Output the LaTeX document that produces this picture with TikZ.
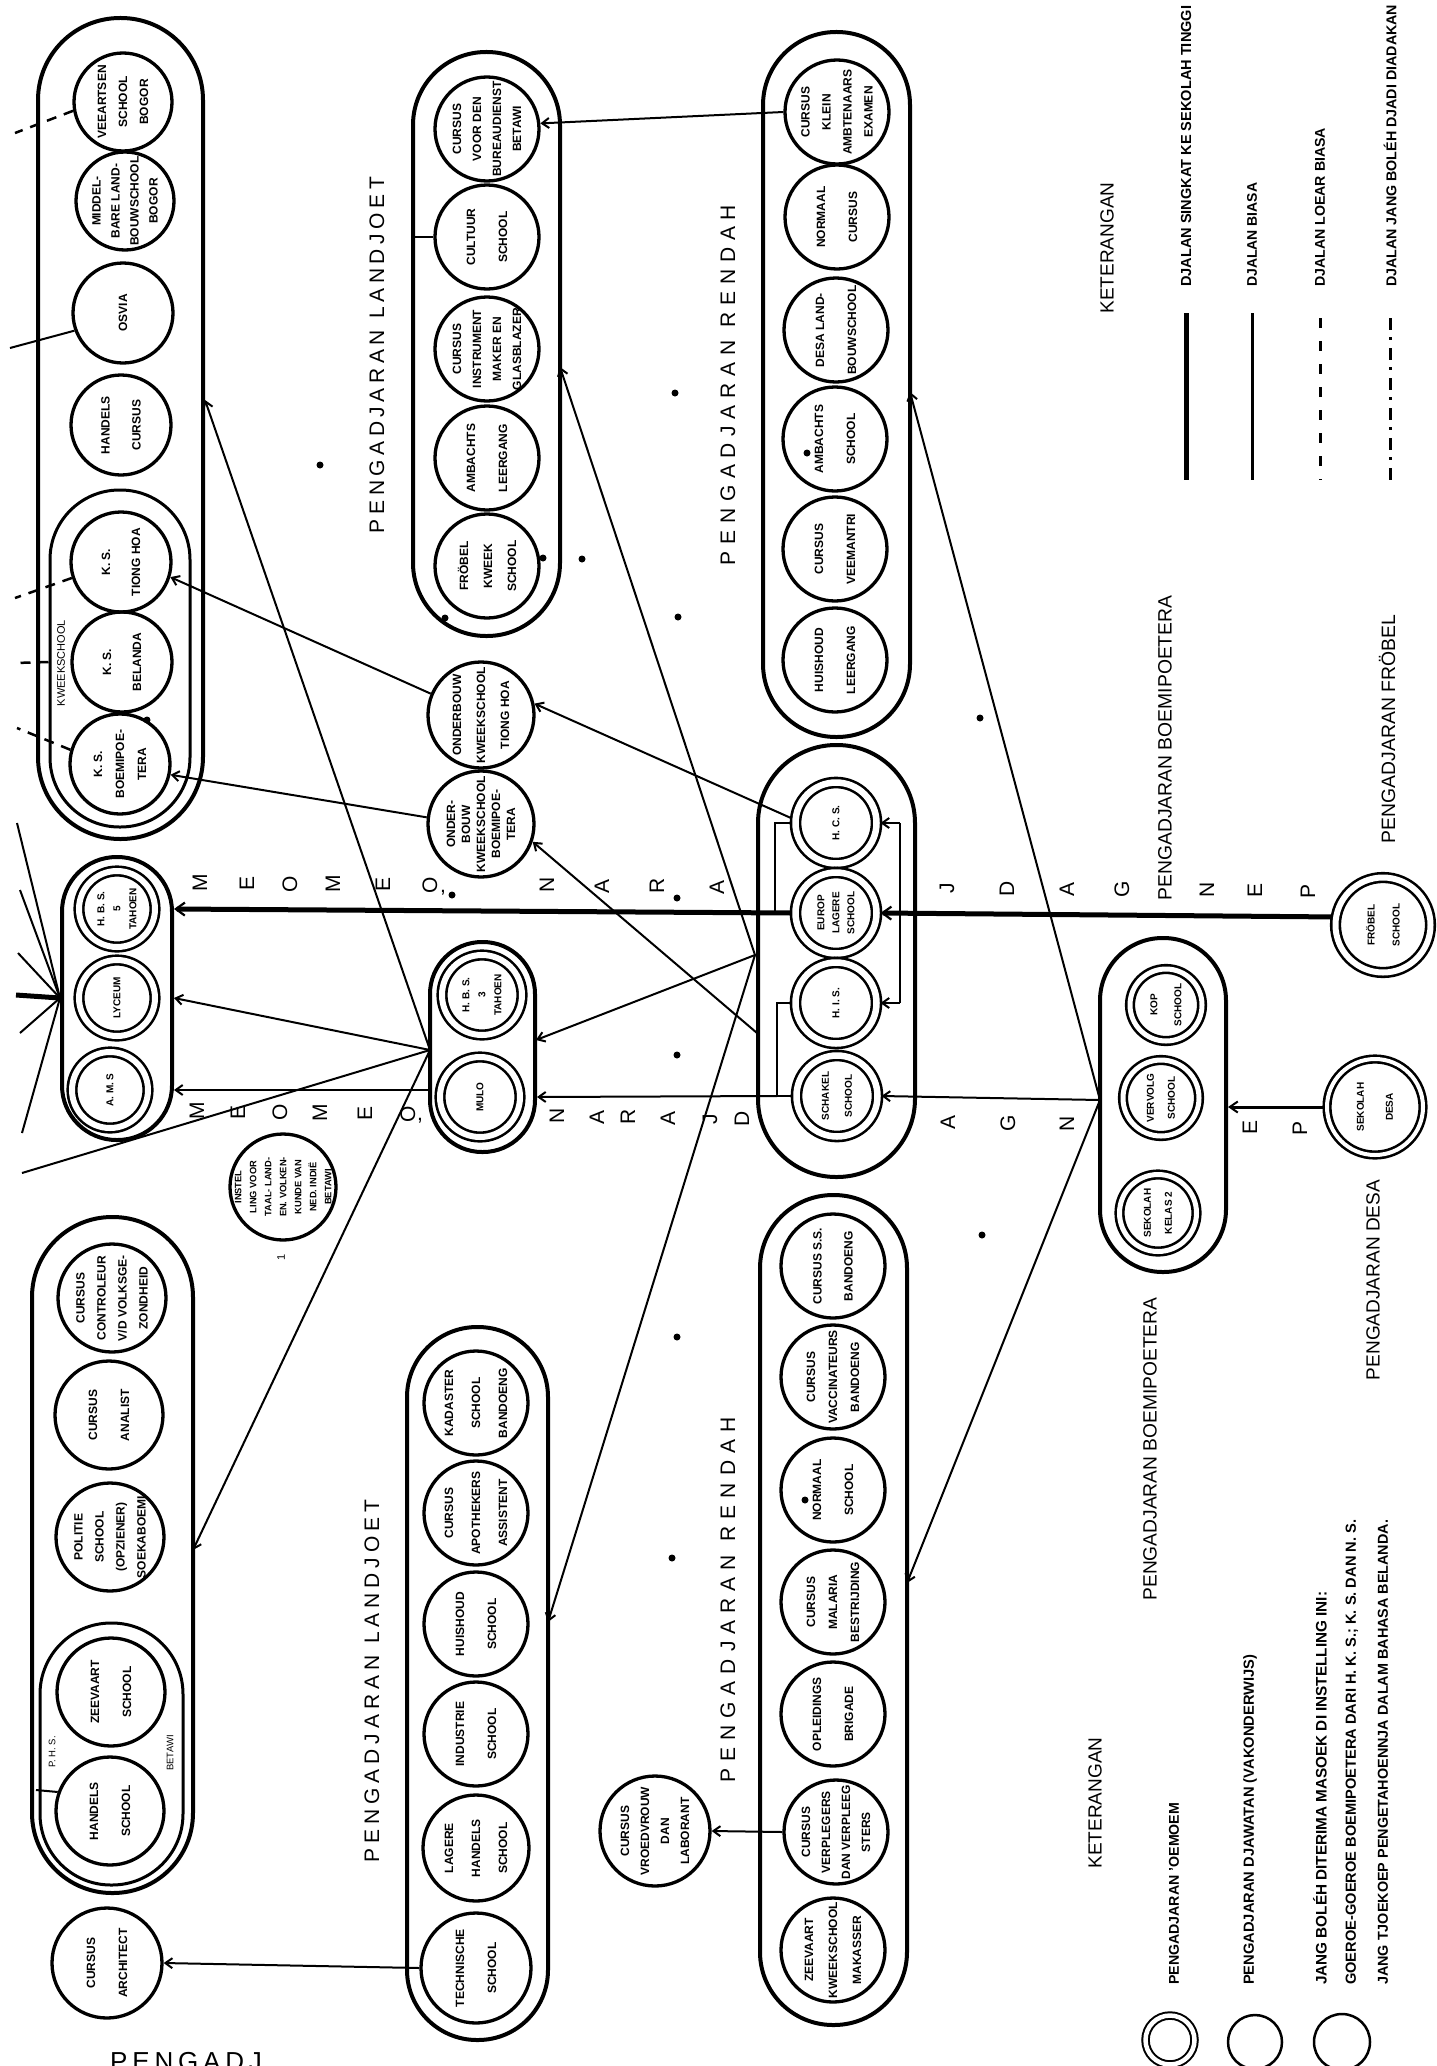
\documentclass[tikz,border=0pt]{standalone}
\usepackage{fontspec}
\setmainfont{Liberation Sans}
\usepackage{graphicx}
\usetikzlibrary{arrows.meta}
\tikzset{
  pillbox/.style={draw, rectangle, line width=4pt, rounded corners=#1, inner sep=0pt},
  cir/.style={draw, circle, line width=3.3pt, minimum size=#1, inner sep=0pt},
  dcir/.style={draw, circle, line width=2.6pt, double, double distance=#1, inner sep=0pt, outer sep=4pt},
  ct/.style={rotate=90, align=center, inner sep=0pt, font=\bfseries\fontsize{12}{#1}\selectfont},
  dct/.style={rotate=90, align=center, inner sep=0pt, font=\bfseries\fontsize{10}{#1}\selectfont},
  conn/.style={line width=2pt},
  arr/.style={line width=2pt, -{Straight Barb[length=7pt,width=10pt]}},
  thickarr/.style={line width=5pt, -{Straight Barb[length=9pt,width=13pt,line width=2.2pt]}},
  medarr/.style={line width=3pt, -{Straight Barb[length=8pt,width=11pt,line width=2pt]}},
  dsh/.style={line width=2.5pt, dash pattern=on 10pt off 8pt},
  bigl/.style={rotate=90, inner sep=0pt, font=\fontsize{21}{21}\selectfont},
  ttl/.style={rotate=90, inner sep=0pt, font=\fontsize{19}{19}\selectfont},
  leg/.style={rotate=90, inner sep=0pt, anchor=west, font=\bfseries\fontsize{14}{14}\selectfont},
}
\newcommand\schc[6]{\node[cir=#4pt] (#1) at (#2,#3) {};\node[ct=#5] (#1t) at (#1) {#6};}
\newcommand\schd[7]{\node[dcir=#5pt, minimum size=#4pt] (#1) at (#2,#3) {};\node[dct=#6] (#1t) at (#1) {#7};}
\newcommand\mkpill[6]{\node[pillbox=#6pt, minimum width=#4pt, minimum height=#5pt] (#1) at (#2,#3) {};}
\begin{document}
\begin{tikzpicture}[x=1pt,y=-1pt]
\fill[white] (0,0) rectangle (1437,2066);
\useasboundingbox (0,0) rectangle (1437,2066);

% ---------- pills ----------
\mkpill{g1}{120.5}{428.5}{165}{821}{82}
\node[pillbox=69.5pt, line width=3pt, minimum width=140pt, minimum height=337pt] (g1k) at (120,658.5) {};
\mkpill{g2}{486.5}{344}{147}{584}{73}
\mkpill{g3}{836.5}{384.5}{147}{705}{73}
\mkpill{g4}{117}{998.5}{110}{283}{54.5}
\mkpill{gM}{482.5}{1047}{105}{210}{52}
\mkpill{g8}{836.5}{961}{157}{432}{78}
\mkpill{g9}{1163}{1105}{126}{334}{62.5}
\mkpill{g5}{112.5}{1555}{161}{676}{80}
\node[pillbox=71pt, line width=3pt, minimum width=143pt, minimum height=262pt] (g5p) at (111.5,1754) {};
\mkpill{g6}{477.5}{1683.5}{141}{713}{70}
\mkpill{g7}{833.5}{1610}{147}{830}{73}

% ---------- group 1 ----------
\schc{vee}{123}{102}{98}{21}{VEEARTSEN\\SCHOOL\\BOGOR}
\schc{mid}{125}{201}{98}{19}{MIDDEL-\\BARE LAND-\\BOUWSCHOOL\\BOGOR}
\schc{osv}{123}{313}{100}{20}{OSVIA}
\schc{hcu}{121}{425}{100}{31}{HANDELS\\CURSUS}
\schc{ksT}{121}{562}{100}{30}{K. S.\\TIONG HOA}
\schc{ksBel}{122}{662}{100}{30}{K. S.\\BELANDA}
\schc{ksB}{120}{764}{100}{22}{K. S.\\BOEMIPOE-\\TERA}
\node[rotate=90, inner sep=0pt, font=\fontsize{11}{11}\selectfont] (kwl) at (61,663) {KWEEKSCHOOL};

% ---------- group 2 ----------
\schc{bur}{487}{129}{104}{20}{CURSUS\\VOOR DEN\\BUREAUDIENST\\BETAWI}
\schc{cul}{487}{237}{104}{32}{CULTUUR\\SCHOOL}
\schc{ins}{487}{349}{104}{20}{CURSUS\\INSTRUMENT\\MAKER EN\\GLASBLAZER}
\schc{amb}{487}{458}{104}{32}{AMBACHTS\\LEERGANG}
\schc{frk}{487}{566}{104}{24}{FRÖBEL\\KWEEK\\SCHOOL}

% ---------- group 3 ----------
\schc{kle}{837}{112}{104}{21}{CURSUS\\KLEIN\\AMBTENAARS\\EXAMEN}
\schc{nor}{837}{217}{104}{32}{NORMAAL\\CURSUS}
\schc{dls}{836}{330}{104}{32}{DESA LAND-\\BOUWSCHOOL}
\schc{abs}{835}{439}{104}{32}{AMBACHTS\\SCHOOL}
\schc{vma}{835}{549}{104}{32}{CURSUS\\VEEMANTRI}
\schc{hle}{835}{660}{104}{32}{HUISHOUD\\LEERGANG}

% ---------- onderbouw ----------
\schc{ondT}{481}{715}{106}{24}{ONDERBOUW\\KWEEKSCHOOL\\TIONG HOA}
\schc{ondB}{481}{824}{106}{15}{ONDER-\\BOUW\\KWEEKSCHOOL\\BOEMIPOE-\\TERA}

% ---------- HBS / MULO ----------
\schd{hbs5}{117}{909}{76}{6}{16}{H. B. S.\\5\\TAHOEN}
\schd{lyc}{117}{998}{76}{6}{16}{LYCEUM}
\schd{amsc}{110}{1090}{76}{6}{16}{A. M. S}
\schd{hbs3}{482}{995}{80}{6}{16}{H. B. S.\\3\\TAHOEN}
\schd{mulo}{480}{1097}{80}{6}{16}{MULO}

% ---------- group 8 ----------
\schd{hcs}{836}{823}{81}{6.5}{16}{H. C. S.}
\schd{eur}{836}{913}{81}{6.5}{15}{EUROP\\LAGERE\\SCHOOL}
\schd{his}{836}{1003}{81}{6.5}{16}{H. I. S.}
\schd{sch}{837}{1096}{81}{6.5}{23}{SCHAKEL\\SCHOOL}

% ---------- group 9 ----------
\schd{kop}{1166}{1005}{72}{5}{24}{KOP\\SCHOOL}
\schd{ver}{1161}{1098}{76}{5}{21}{VERVOLG\\SCHOOL}
\schd{kel}{1158}{1213}{77}{5}{21}{SEKOLAH\\KELAS 2}
\schd{desa}{1375}{1107}{96}{4}{29}{SEKOLAH\\DESA}
\schd{frs}{1383}{925}{95}{6}{25}{FRÖBEL\\SCHOOL}

% ---------- instelling ----------
\node[cir=106pt] (inst) at (283,1187) {};
\node[rotate=90, align=center, inner sep=0pt, font=\bfseries\fontsize{9.3}{15}\selectfont] (instt) at (inst) {INSTEL\\LING VOOR\\TAAL- LAND-\\EN. VOLKEN-\\KUNDE VAN\\NED. INDIË\\BETAWI};
\node[rotate=90, inner sep=0pt, font=\fontsize{11}{11}\selectfont] (fn1) at (281,1257) {1};

% ---------- group 5 ----------
\schc{con}{112}{1298}{108}{21}{CURSUS\\CONTROLEUR\\V/D VOLKSGE-\\ZONDHEID}
\schc{ana}{109}{1415}{108}{32}{CURSUS\\ANALIST}
\schc{pol}{110}{1537}{108}{21}{POLITIE\\SCHOOL\\(OPZIENER)\\SOEKABOEMI}
\schc{zee}{111}{1692}{108}{32}{ZEEVAART\\SCHOOL}
\schc{han}{110}{1811}{108}{32}{HANDELS\\SCHOOL}
\node[rotate=90, inner sep=0pt, font=\fontsize{9.5}{9.5}\selectfont] (phs) at (52,1752) {P. H. S.};
\node[rotate=90, inner sep=0pt, font=\fontsize{9.5}{9.5}\selectfont] (bet) at (170,1753) {BETAWI};
\schc{arch}{107}{1963}{110}{32}{CURSUS\\ARCHITECT}

% ---------- group 6 ----------
\schc{kad}{476}{1403}{104}{27}{KADASTER\\SCHOOL\\BANDOENG}
\schc{apo}{476}{1513}{104}{27}{CURSUS\\APOTHEKERS\\ASSISTENT}
\schc{hus}{476}{1624}{104}{32}{HUISHOUD\\SCHOOL}
\schc{ind}{476}{1734}{104}{32}{INDUSTRIE\\SCHOOL}
\schc{lhs}{476}{1848}{106}{27}{LAGERE\\HANDELS\\SCHOOL}
\schc{tec}{476}{1968}{110}{32}{TECHNISCHE\\SCHOOL}

% ---------- group 7 ----------
\schc{css}{833}{1266}{104}{31}{CURSUS S.S.\\BANDOENG}
\schc{vac}{833}{1377}{104}{22}{CURSUS\\VACCINATEURS\\BANDOENG}
\schc{nrm}{833}{1490}{104}{32}{NORMAAL\\SCHOOL}
\schc{mal}{833}{1602}{104}{22}{CURSUS\\MALARIA\\BESTRIJDING}
\schc{opl}{833}{1714}{104}{32}{OPLEIDINGS\\BRIGADE}
\schc{vpl}{836}{1832}{104}{20}{CURSUS\\VERPLEGERS\\DAN VERPLEEG\\STERS}
\schc{zkm}{833}{1950}{104}{24}{ZEEVAART\\KWEEKSCHOOL\\MAKASSER}
\schc{vro}{655}{1831}{110}{20}{CURSUS\\VROEDVROUW\\DAN\\LABORANT}

% ---------- coordinates ----------
\coordinate (cM) at (430,1050);
\coordinate (g1in) at (205,400);
\coordinate (g5in) at (193,1550);
\coordinate (tg1) at (22,1173);
\coordinate (cS) at (755,955);
\coordinate (cS2) at (757,1033);
\coordinate (g2in) at (560,367);
\coordinate (gMin) at (536,1040);
\coordinate (g6in) at (548,1622);
\coordinate (cV) at (1100,1100);
\coordinate (g3in) at (910,392);
\coordinate (g7in) at (907,1583);
\coordinate (rbx) at (900,913);
\coordinate (lbx) at (775,913);
\coordinate (lby) at (777,1096);

% ---------- connectors ----------
\draw[thickarr] (frs.171) -- (eur.east);
\draw[thickarr] (eur.west) -- (hbs5 -| g4.east);
\draw[conn] (rbx |- hcs) -- (rbx |- his);
\draw[arr] (rbx |- hcs) -- (hcs.east);
\draw[arr] (rbx |- his) -- (his.east);
\draw[conn] (hcs.west) -| (lbx);
\draw[conn] (his.west) -| (lby) -- (sch.west);
\draw[arr] (lby) -- (mulo -| gM.east);
\draw[arr] (cV) -- (sch.east);
\draw[arr] (cV) -- (g3in);
\draw[arr] (cV) -- (g7in);
\draw[medarr] (desa.west) -- (desa -| g9.east);
\draw[arr] (cS) -- (g2in);
\draw[arr] (cS) -- (gMin);
\draw[arr] (cS) -- (g6in);
\draw[arr] (cS2) -- (ondB.-19);
\draw[arr] (hcs.174) -- (ondT.12);
\draw[arr] (ondT.157) -- (ksT.-17);
\draw[arr] (ondB.173) -- (ksB.-12);
\draw[arr] (kle.west) -- (bur.6);
\draw[conn] (cul.west) -- (cul -| g2.west);
\draw[arr] (tec.west) -- (arch.east);
\draw[arr] (vpl.west) -- (vro.east);
\draw[arr] (cM) -- (lyc -| g4.east);
\draw[arr] (cM) -- (g1in);
\draw[conn] (cM) -- (tg1);
\draw[arr] (cM) -- (g5in);
\draw[arr] (amsc -| gM.west) -- (amsc -| g4.east);

% fan to the left
\coordinate (f0) at (lyc -| g4.west);
\foreach \i/\x/\y in {1/17/823, 2/20/890, 3/18/953, 4/20/1033, 5/22/1133} {
  \coordinate (fe\i) at (\x,\y);
  \draw[conn] (f0) -- (fe\i);
}
\coordinate (fe0) at (16,995);
\draw[line width=5pt] (f0) -- (fe0);

% left edge links of group 1
\coordinate (t1) at (15,133);
\coordinate (t2) at (15,598);
\coordinate (t3) at (17,728);
\coordinate (t4) at (15,663);
\coordinate (t5) at (10,348);
\draw[dsh] (vee.190) -- (t1);
\draw[dsh] (ksT.198) -- (t2);
\draw[dsh] (ksB.164) -- (t3);
\draw[dsh] (ksBel -| g1k.west) -- (t4);
\draw[conn] (osv.200) -- (t5);
\coordinate (hanL) at (36,1790);
\draw[conn] (han.160) -- (hanL);

% ---------- spaced labels ----------
\node[bigl] (lLt) at (377,355) {\makebox[356pt][s]{P E N G A D J A R A N\hspace{7pt} L A N D J O E T}};
\node[bigl] (lRt) at (728,385) {\makebox[360pt][s]{P E N G A D J A R A N\hspace{7pt} R E N D A H}};
\node[bigl] (lLb) at (372,1681) {\makebox[362pt][s]{P E N G A D J A R A N\hspace{7pt} L A N D J O E T}};
\node[bigl] (lRb) at (728,1600) {\makebox[365pt][s]{P E N G A D J A R A N\hspace{7pt} R E N D A H}};

\foreach \x/\y/\lt [count=\i] in {1308/891/P,1255/890/E,1207/890/N,1122/889/G,1067/889/A,1007/889/D,947/888/J,717/887/A,657/886/R,602/886/A,547/885/N,430/885/O,383/884/E,333/884/M,290/884/O,247/883/E,200/883/M}
  \node[bigl] (ra\i) at (\x,\y) {\lt};
\foreach \x/\y/\lt [count=\i] in {1300/1128/P,1250/1127/E,1067/1124/N,1008/1123/G,948/1122/A,742/1119/D,710/1119/J,668/1118/A,628/1117/R,597/1117/A,557/1116/N,408/1114/O,365/1113/E,320/1113/M,280/1112/O,238/1112/E,197/1111/M}
  \node[bigl] (rb\i) at (\x,\y) {\lt};
\node[inner sep=0pt, font=\fontsize{21}{21}\selectfont] (apa) at (443,893) {,};
\node[inner sep=0pt, font=\fontsize{21}{21}\selectfont] (apb) at (420,1121) {,};

% ---------- titles ----------
\node[ttl] (tB1) at (1165,748) {\resizebox{305pt}{!}{PENGADJARAN BOEMIPOETERA}};
\node[ttl] (tF) at (1387,729) {\resizebox{228pt}{!}{PENGADJARAN FRÖBEL}};
\node[ttl] (tB2) at (1150,1449) {\resizebox{303pt}{!}{PENGADJARAN BOEMIPOETERA}};
\node[ttl] (tD) at (1373,1280) {\resizebox{200pt}{!}{PENGADJARAN DESA}};
\node[ttl] (k1) at (1107,248) {\resizebox{131pt}{!}{KETERANGAN}};
\node[ttl] (k2) at (1095,1803) {\resizebox{131pt}{!}{KETERANGAN}};
\node[anchor=north west, inner sep=0pt, font=\fontsize{26}{26}\selectfont] (ttlB) at (110,2052) {\makebox[150pt][s]{P E N G A D J}};

% ---------- legend top ----------
\node[leg] (lg1) at (1186,287) {\resizebox{281pt}{!}{DJALAN SINGKAT KE SEKOLAH TINGGI}};
\node[leg] (lg2) at (1252,287) {\resizebox{104pt}{!}{DJALAN BIASA}};
\node[leg] (lg3) at (1320,287) {\resizebox{159pt}{!}{DJALAN LOEAR BIASA}};
\node[leg] (lg4) at (1390,287) {\resizebox{282pt}{!}{DJALAN JANG BOLÉH DJADI DIADAKAN}};
\draw[line width=5pt] (1186,313) -- (1186,480);
\draw[line width=3pt] (1252,313) -- (1252,480);
\draw[line width=3pt, dash pattern=on 10pt off 13pt] (1320,318) -- (1320,480);
\draw[line width=3pt, dash pattern=on 12pt off 7pt on 3pt off 8pt] (1390,318) -- (1390,480);

% ---------- legend bottom ----------
\node[leg] (b1) at (1174,1985) {\resizebox{182pt}{!}{PENGADJARAN 'OEMOEM}};
\node[leg] (b2) at (1250,1985) {\resizebox{330pt}{!}{PENGADJARAN DJAWATAN (VAKONDERWIJS)}};
\node[leg] (b3) at (1320,1985) {\resizebox{393pt}{!}{JANG BOLÉH DITERIMA MASOEK DI INSTELLING INI:}};
\node[leg] (b4) at (1352,1985) {\resizebox{465pt}{!}{GOEROE-GOEROE BOEMIPOETERA DARI H. K. S.; K. S. DAN N. S.}};
\node[leg] (b5) at (1383,1985) {\resizebox{465pt}{!}{JANG TJOEKOEP PENGETAHOENNJA DALAM BAHASA BELANDA.}};
\node[draw, circle, line width=2pt, double, double distance=4.5pt, minimum size=49pt, inner sep=0pt] (legO) at (1170,2040) {};
\node[draw, circle, line width=2.5pt, minimum size=54pt, inner sep=0pt] (legD) at (1255,2042) {};
\node[draw, circle, line width=2.5pt, minimum size=56pt, inner sep=0pt] (legJ) at (1342,2042) {};

% ---------- dots ----------
\foreach \x/\y in {320/465, 675/393, 807/453, 147/720, 445/618, 452/895, 543/558, 582/559, 678/617, 677/898, 980/718, 677/1055, 677/1337, 805/1500, 672/1558, 982/1235}
  \fill (\x,\y) circle (3.5);
\end{tikzpicture}
\end{document}
